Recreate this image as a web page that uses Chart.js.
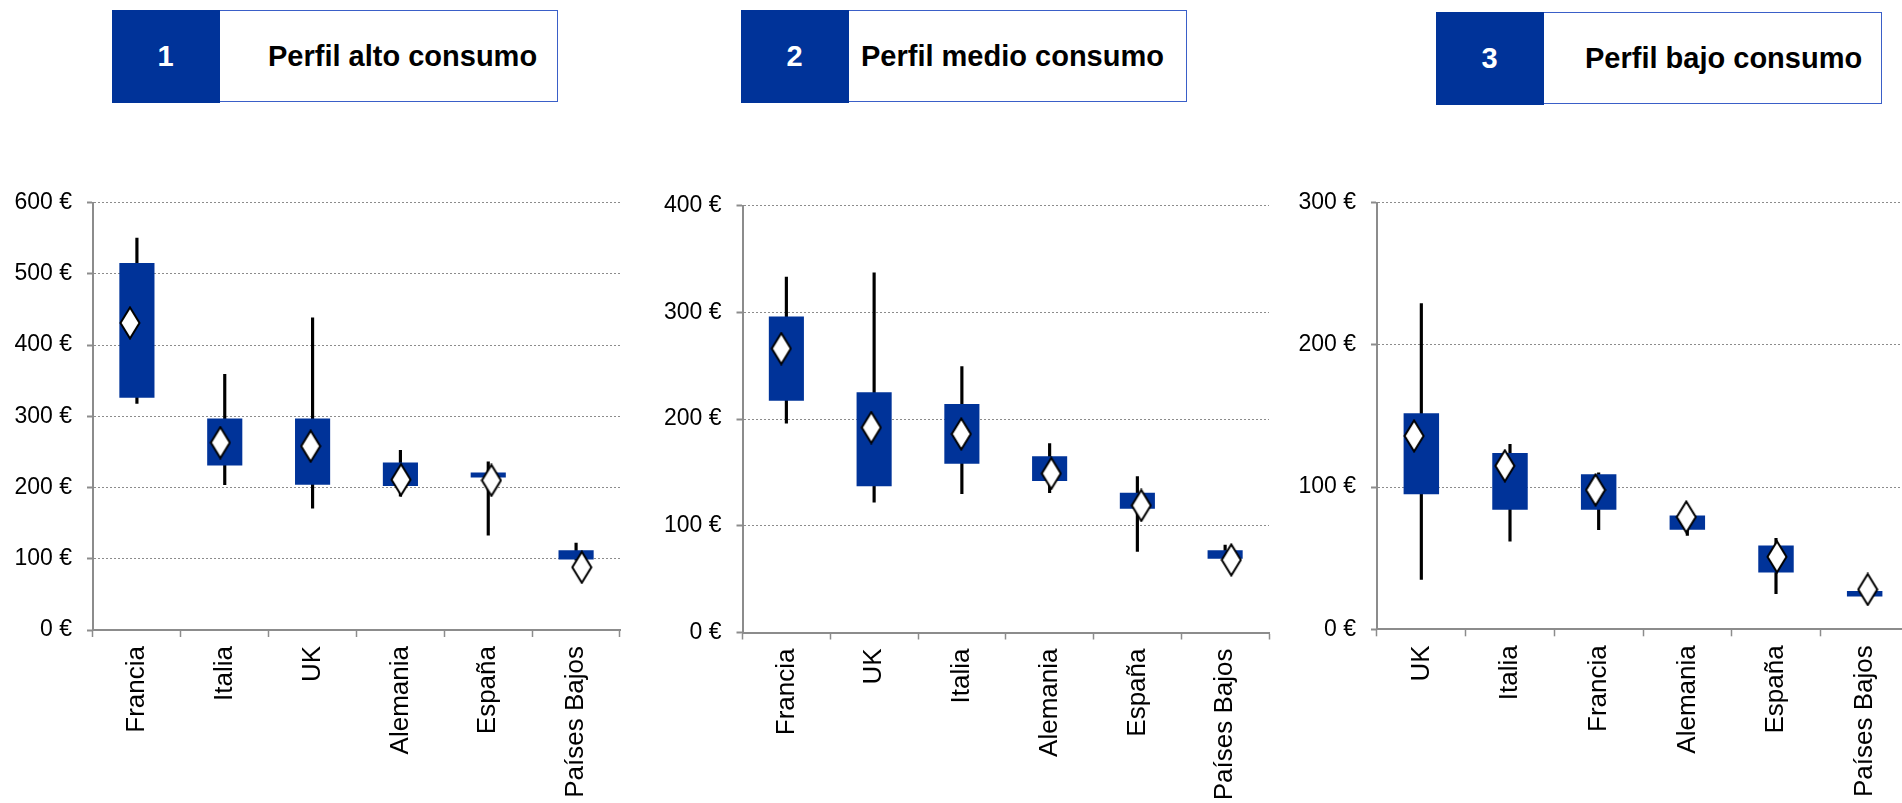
<!DOCTYPE html>
<html lang="es">
<head>
<meta charset="utf-8">
<title>Perfiles de consumo</title>
<script src="https://cdn.jsdelivr.net/npm/chart.js@4.4.1/dist/chart.umd.min.js"></script>
<style>
    html, body { margin: 0; padding: 0; background: #fff; }
    body {
        position: relative;
        width: 1902px;
        height: 803px;
        overflow: hidden;
        font-family: "Liberation Sans", Arial, sans-serif;
    }
    .perfil {
        position: absolute;
        top: 10px;
        width: 446px;
        height: 92px;
        box-sizing: border-box;
        border: 1.5px solid #3a5fc8;
        background: #fff;
    }
    .perfil .num {
        position: absolute;
        left: -1.5px; top: -1.5px; bottom: -1.5px;
        width: 108px;
        background: #003399;
        color: #fff;
        font-weight: bold;
        font-size: 29px;
        display: flex;
        align-items: center;
        justify-content: center;
    }
    .perfil .txt {
        position: absolute;
        top: 0; bottom: 0;
        display: flex;
        align-items: center;
        font-weight: bold;
        font-size: 29px;
        color: #000;
        white-space: nowrap;
    }
    canvas { position: absolute; top: 150px; }
</style>
</head>
<body>

<div class="perfil" style="left:112px"><div class="num">1</div><div class="txt" style="left:155px">Perfil alto consumo</div></div>
<div class="perfil" style="left:741px"><div class="num">2</div><div class="txt" style="left:119px">Perfil medio consumo</div></div>
<div class="perfil" style="left:1436px; top:12px"><div class="num">3</div><div class="txt" style="left:148px">Perfil bajo consumo</div></div>

<canvas id="chartAlto" width="640" height="653" style="left:0px"></canvas>
<canvas id="chartMedio" width="640" height="653" style="left:640px"></canvas>
<canvas id="chartBajo" width="640" height="653" style="left:1280px"></canvas>

<script>
// alto consumo
const altoLabels = ['Francia', 'Italia', 'UK', 'Alemania', 'España', 'Países Bajos'];
const altoLow = [318, 204, 171, 188, 133, 98];
const altoHigh = [550, 359, 438, 252, 236, 122];
const altoQ1 = [326, 231, 204, 202, 214, 99];
const altoQ3 = [515, 297, 297, 235, 221, 112];
const altoMean = [431, 263, 258, 211, 210, 88];

// medio consumo
const medioLabels = ['Francia', 'UK', 'Italia', 'Alemania', 'España', 'Países Bajos'];
const medioLow = [196, 122, 130, 131, 76, 69];
const medioHigh = [333, 337, 249, 177, 146, 82];
const medioQ1 = [217, 137, 158, 142, 116, 69];
const medioQ3 = [296, 225, 214, 165, 131, 77];
const medioMean = [266, 192, 186, 149, 119, 68];

// bajo consumo
const bajoLabels = ['UK', 'Italia', 'Francia', 'Alemania', 'España', 'Países Bajos'];
const bajoLow = [35, 62, 70, 66, 25, 23];
const bajoHigh = [229, 130, 110, 80, 64, 29];
const bajoQ1 = [95, 84, 84, 70, 40, 23];
const bajoQ3 = [152, 124, 109, 80, 59, 27];
const bajoMean = [136, 115, 98, 79, 51, 28];

const BLUE = '#003399';
const AXIS_GREY = '#8c8c8c';
const FONT = '"Liberation Sans", Arial, sans-serif';

// white diamond marker, taller than wide
function makeDiamond() {
    const c = document.createElement('canvas');
    c.width = 22;
    c.height = 34;
    const ctx = c.getContext('2d');
    ctx.beginPath();
    ctx.moveTo(11, 1.5);
    ctx.lineTo(20.5, 17);
    ctx.lineTo(11, 32.5);
    ctx.lineTo(1.5, 17);
    ctx.closePath();
    ctx.fillStyle = '#fff';
    ctx.fill();
    ctx.lineWidth = 2;
    ctx.strokeStyle = '#000';
    ctx.stroke();
    return c;
}

const DIAMOND = makeDiamond();

function drawProfile(id, labels, low, high, q1, q3, mean, cfg) {
    return new Chart(id, {
        type: 'bar',
        data: {
            labels: labels,
            datasets: [
                {
                    type: 'scatter',
                    xAxisID: 'xd',
                    data: mean.map((v, i) => ({ x: i, y: v })),
                    pointStyle: DIAMOND,
                    pointRadius: 10,
                    order: 0
                },
                {
                    xAxisID: 'x',
                    data: labels.map((_, i) => [q1[i], q3[i]]),
                    backgroundColor: BLUE,
                    barPercentage: 0.4,
                    categoryPercentage: 1,
                    grouped: false,
                    order: 1
                },
                {
                    xAxisID: 'x',
                    data: labels.map((_, i) => [low[i], high[i]]),
                    backgroundColor: '#000',
                    barThickness: 2.5,
                    grouped: false,
                    order: 2
                }
            ]
        },
        options: {
            responsive: false,
            animation: false,
            layout: {
                padding: { top: cfg.top, right: cfg.right, left: 0, bottom: 0 }
            },
            plugins: {
                legend: { display: false },
                tooltip: { enabled: false }
            },
            scales: {
                x: {
                    type: 'category',
                    offset: true,
                    grid: {
                        offset: true,
                        drawOnChartArea: false,
                        tickLength: 7,
                        color: AXIS_GREY,
                        tickWidth: 1.5
                    },
                    border: { color: AXIS_GREY, width: 2 },
                    ticks: {
                        minRotation: 90,
                        maxRotation: 90,
                        autoSkip: false,
                        padding: 9,
                        color: '#000',
                        font: { family: FONT, size: 26 }
                    },
                    afterFit: (scale) => { scale.height = cfg.xHeight; }
                },
                // the mean markers sit on their own, slightly wider, axis
                xd: {
                    type: 'linear',
                    display: false,
                    offset: false,
                    min: cfg.dMin,
                    max: cfg.dMax
                },
                y: {
                    min: 0,
                    max: cfg.yMax,
                    ticks: {
                        stepSize: 100,
                        padding: 15,
                        color: '#000',
                        font: { family: FONT, size: 23 },
                        callback: (v) => v + ' €'
                    },
                    grid: {
                        color: AXIS_GREY,
                        lineWidth: 1,
                        tickLength: 6,
                        tickWidth: 2,
                        tickBorderDash: []
                    },
                    border: { color: AXIS_GREY, width: 2, dash: [2, 2] },
                    afterFit: (scale) => { scale.width = cfg.yWidth; }
                }
            }
        }
    });
}

document.addEventListener('DOMContentLoaded', () => {
    drawProfile('chartAlto', altoLabels, altoLow, altoHigh, altoQ1, altoQ3, altoMean, {
        yMax: 600, yWidth: 93, top: 52.5, right: 20, xHeight: 173, dMin: -0.409, dMax: 5.423
    });
    drawProfile('chartMedio', medioLabels, medioLow, medioHigh, medioQ1, medioQ3, medioMean, {
        yMax: 400, yWidth: 102.5, top: 55.5, right: 10, xHeight: 170.5, dMin: -0.431, dMax: 5.419
    });
    drawProfile('chartBajo', bajoLabels, bajoLow, bajoHigh, bajoQ1, bajoQ3, bajoMean, {
        yMax: 300, yWidth: 97, top: 52.7, right: 9, xHeight: 173.7, dMin: -0.409, dMax: 5.455
    });
});
</script>
</body>
</html>
